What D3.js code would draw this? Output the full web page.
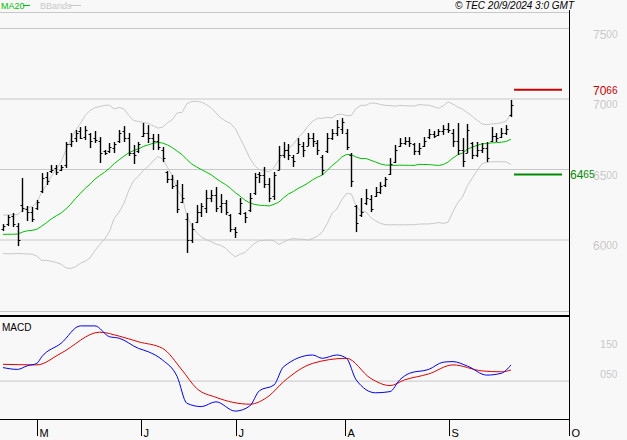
<!DOCTYPE html>
<html><head><meta charset="utf-8">
<script src="https://cdn.jsdelivr.net/npm/d3@7"></script>
<style>body{margin:0;background:#f8f8f8}svg{display:block}text{font-family:"Liberation Sans",Arial,sans-serif}</style>
</head><body><svg id="c" width="627" height="440"></svg>
<script>
const highs=[6113,6177,6191,6120,6440,6241,6234,6284,6475,6482,6532,6532,6532,6695,6759,6780,6801,6808,6759,6773,6730,6638,6688,6695,6780,6808,6759,6674,6695,6830,6815,6752,6752,6660,6489,6461,6425,6397,6191,6120,6248,6262,6355,6355,6376,6326,6284,6184,6092,6298,6198,6333,6475,6482,6518,6440,6482,6667,6695,6681,6603,6723,6695,6759,6759,6709,6603,6759,6787,6851,6865,6787,6617,6248,6298,6362,6319,6376,6411,6447,6581,6674,6723,6730,6730,6688,6688,6730,6787,6773,6787,6815,6830,6787,6830,6723,6823,6695,6695,6688,6695,6801,6759,6794,6815,6993];
const lows=[6064,6099,6092,5957,6198,6135,6128,6213,6333,6390,6475,6461,6489,6511,6660,6695,6716,6709,6652,6688,6546,6603,6617,6617,6688,6695,6596,6539,6617,6730,6688,6638,6638,6553,6404,6362,6191,6262,5908,5979,6120,6163,6191,6269,6198,6191,6177,6056,6014,6177,6120,6198,6319,6404,6369,6269,6284,6496,6581,6567,6518,6617,6588,6667,6660,6603,6461,6617,6709,6737,6752,6638,6376,6056,6163,6248,6198,6305,6326,6376,6461,6546,6660,6674,6660,6603,6603,6660,6716,6723,6737,6745,6759,6660,6603,6518,6617,6574,6588,6617,6553,6695,6695,6723,6745,6872];
const opens=[6080,6110,6170,6100,6250,6220,6200,6230,6350,6450,6490,6510,6500,6530,6680,6720,6770,6730,6750,6720,6700,6630,6630,6650,6700,6770,6720,6620,6630,6740,6760,6720,6700,6640,6480,6430,6390,6270,6150,6000,6130,6200,6230,6300,6320,6240,6260,6180,6080,6190,6190,6210,6330,6470,6460,6400,6310,6500,6600,6640,6590,6620,6670,6670,6720,6690,6590,6630,6720,6760,6790,6760,6600,6240,6180,6260,6290,6310,6340,6390,6470,6550,6670,6690,6700,6680,6630,6670,6730,6750,6745,6770,6790,6760,6700,6640,6620,6690,6600,6640,6650,6700,6740,6730,6760,6890];
const closes=[6100,6160,6110,6000,6230,6200,6150,6270,6440,6420,6500,6480,6520,6680,6700,6760,6720,6780,6700,6710,6620,6620,6660,6680,6760,6720,6620,6600,6680,6760,6720,6700,6660,6580,6430,6380,6220,6300,6000,6080,6200,6240,6300,6320,6230,6260,6200,6080,6060,6260,6160,6300,6450,6460,6400,6300,6460,6600,6640,6600,6560,6680,6640,6720,6700,6640,6500,6720,6760,6800,6840,6660,6420,6120,6200,6300,6220,6340,6380,6430,6540,6640,6690,6700,6690,6630,6650,6700,6750,6740,6770,6790,6780,6700,6640,6560,6780,6600,6640,6650,6580,6740,6720,6760,6790,6960];
const priorCloses=[6150,6100,5980,5950,6020,6080,6120,6000,5920,5960,6050,6130,6100,6020,5950,5990,6060,6120,6000];
const macdIdx=[0,3,5,7,8,12,16,19,22,24,28,30,33,36,38,41,44,48,51,53,56,58,64,66,69,71,73,77,80,82,84,88,91,93,96,100,103,105];
const macdVals=[68,62,74,82,104,149,207,207,171,166,132,121,93,38,-51,-62,-46,-77,-60,-9,10,71,110,99,110,99,27,-16,-12,27,49,62,86,88,73,43,49,77];
const sigIdx=[0,7,12,20,24,28,33,37,40,44,51,55,58,64,71,76,80,83,88,93,99,103,105];
const sigVals=[79,77,116,186,173,154,132,60,-1,-31,-54,-26,21,82,99,32,8,27,47,77,57,54,60];
const priceTicks=[6000,6500,7000,7500];
const macdTicks=[50,150];
const macdGrid=23;
const monthLabels=["M","J","J","A","S","O"];
const monthIdx=[7,28.5,48.1,70.7,92.1,116.9];
const resistance=7066, support=6465;

const svg=d3.select("#c");
const x=d3.scaleLinear().domain([0,105]).range([3,511]);
const y=d3.scaleLinear().domain([6000,7000]).range([240,99]);
const ym=d3.scaleLinear().domain([50,150]).range([373,343]);
const axX=569;

svg.append("g").selectAll("line").data(priceTicks).join("line")
 .attr("x1",0).attr("x2",axX).attr("y1",d=>y(d)).attr("y2",d=>y(d)).attr("stroke","#c8c8c8");
svg.append("line").attr("x1",0).attr("x2",axX).attr("y1",12.5).attr("y2",12.5).attr("stroke","#c8c8c8");
svg.append("line").attr("x1",0).attr("x2",axX).attr("y1",311.5).attr("y2",311.5).attr("stroke","#c8c8c8");
svg.append("line").attr("x1",0).attr("x2",axX).attr("y1",316).attr("y2",316).attr("stroke","#000").attr("stroke-width",2);
svg.append("line").attr("x1",0).attr("x2",axX).attr("y1",ym(macdGrid)).attr("y2",ym(macdGrid)).attr("stroke","#c8c8c8");
svg.append("line").attr("x1",0).attr("x2",axX+1).attr("y1",419.5).attr("y2",419.5).attr("stroke","#000");
svg.append("line").attr("x1",axX+0.5).attr("x2",axX+0.5).attr("y1",10).attr("y2",420).attr("stroke","#000");

const all=priorCloses.concat(closes), P=priorCloses.length;
const ma=[],up=[],lo=[];
closes.forEach((c,i)=>{const w=all.slice(i+P-19,i+P+1);const m=d3.mean(w);const s=Math.sqrt(d3.mean(w,v=>(v-m)*(v-m)));ma.push(m);up.push(m+2*s);lo.push(m-2*s);});
const line=d3.line().x((d,i)=>x(i)).y(d=>y(d));
[up,lo].forEach(a=>svg.append("path").attr("d",line(a)).attr("fill","none").attr("stroke","#c8c8c8"));
svg.append("path").attr("d",line(ma)).attr("fill","none").attr("stroke","#00c000");

const g=svg.append("g").attr("stroke","#000");
closes.forEach((c,i)=>{const xx=Math.round(x(i))+0.5;
 g.append("line").attr("x1",xx).attr("x2",xx).attr("y1",y(highs[i])).attr("y2",y(lows[i])).attr("stroke-width",1.4);
 g.append("line").attr("x1",xx-2).attr("x2",xx).attr("y1",Math.round(y(opens[i]))+0.5).attr("y2",Math.round(y(opens[i]))+0.5);
 g.append("line").attr("x1",xx).attr("x2",xx+2).attr("y1",Math.round(y(c))+0.5).attr("y2",Math.round(y(c))+0.5);
});

svg.append("line").attr("x1",514).attr("x2",562).attr("y1",y(resistance)).attr("y2",y(resistance)).attr("stroke","#c80000").attr("stroke-width",2);
svg.append("line").attr("x1",514).attr("x2",562).attr("y1",y(support)).attr("y2",y(support)).attr("stroke","#008c00").attr("stroke-width",2);
function lab(xp,yp,v,col){const t=svg.append("text").attr("x",xp).attr("y",yp).attr("fill",col).attr("font-size",12);
 const s=String(v);t.append("tspan").text(s.slice(0,2));t.append("tspan").attr("font-size",10).attr("dy",-1).text(s.slice(2));}
priceTicks.forEach(v=>lab(593,y(v)+10,v,"#c8c8c8"));
lab(593,y(resistance)+5,resistance,"#c80000");
lab(570,y(support)+5,support,"#008c00");

const ml=d3.line().x(d=>x(d[0])).y(d=>ym(d[1])).curve(d3.curveMonotoneX);
svg.append("path").attr("d",ml(sigIdx.map((d,i)=>[d,sigVals[i]]))).attr("fill","none").attr("stroke","#e00000");
svg.append("path").attr("d",ml(macdIdx.map((d,i)=>[d,macdVals[i]]))).attr("fill","none").attr("stroke","#0000f0");
macdTicks.forEach(v=>{const t=svg.append("text").attr("x",600).attr("y",ym(v)+5).attr("fill","#c8c8c8").attr("font-size",11);
 const s=String(v).padStart(3,"0");t.append("tspan").text(s.slice(0,1));t.append("tspan").attr("font-size",10).text(s.slice(1));});
svg.append("text").attr("x",2).attr("y",331).attr("font-size",10).text("MACD");

monthIdx.forEach((d,i)=>{const xx=Math.round(x(d))+0.5;
 svg.append("line").attr("x1",xx).attr("x2",xx).attr("y1",420).attr("y2",436).attr("stroke","#000");
 svg.append("text").attr("x",xx+2).attr("y",437).attr("font-size",11).text(monthLabels[i]);});

svg.append("text").attr("x",1).attr("y",9).attr("font-size",9).attr("fill","#00c000").text("MA20");
svg.append("line").attr("x1",23).attr("x2",30).attr("y1",5.5).attr("y2",5.5).attr("stroke","#00c000");
svg.append("text").attr("x",40).attr("y",9).attr("font-size",9).attr("fill","#c8c8c8").text("BBands");
svg.append("line").attr("x1",70).attr("x2",81).attr("y1",5.5).attr("y2",5.5).attr("stroke","#c8c8c8");
svg.append("text").attr("x",574).attr("y",9).attr("font-size",10).attr("font-style","italic").attr("text-anchor","end").text("© TEC 20/9/2024 3:0 GMT");
</script></body></html>
